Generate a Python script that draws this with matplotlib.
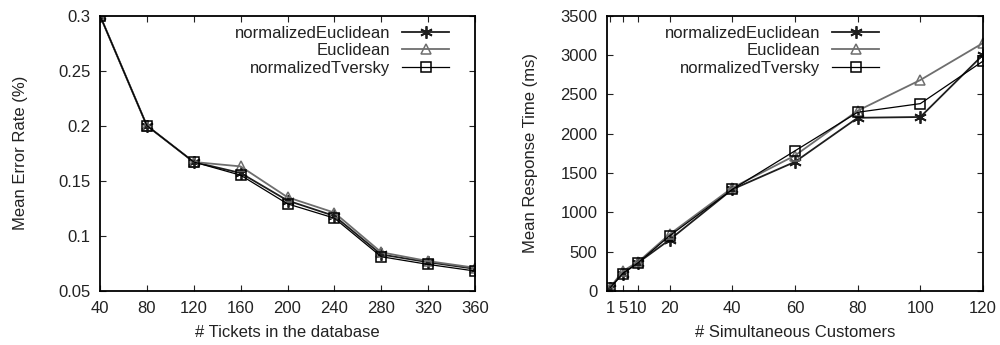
import matplotlib
matplotlib.use('Agg')
import matplotlib.pyplot as plt

plt.rcParams['font.family'] = ['Liberation Sans', 'DejaVu Sans']

# left chart: error rate vs tickets
tickets = [40, 80, 120, 160, 200, 240, 280, 320, 360]
err_norm_euclid = [0.300, 0.200, 0.167, 0.157, 0.132, 0.118, 0.083, 0.076, 0.070]
err_euclid = [0.300, 0.200, 0.167, 0.163, 0.135, 0.121, 0.085, 0.077, 0.071]
err_norm_tversky = [0.300, 0.200, 0.167, 0.155, 0.129, 0.116, 0.081, 0.074, 0.068]

# right chart: response time vs customers
customers = [1, 5, 10, 20, 40, 60, 80, 100, 120]
rt_norm_euclid = [40, 220, 360, 650, 1290, 1640, 2200, 2210, 3000]
rt_euclid = [40, 250, 370, 720, 1310, 1720, 2290, 2680, 3150]
rt_norm_tversky = [40, 220, 360, 700, 1290, 1780, 2270, 2380, 2920]

labels = ['normalizedEuclidean', 'Euclidean', 'normalizedTversky']


def draw(ax, x, series, leg_x):
    styles = [
        dict(color='#1e1e1e', marker=(6, 2, 0), markersize=9, lw=1.3, mew=1.3),
        dict(color='#6e6e6e', marker='^', markersize=7, lw=1.3, mfc='none', mew=1.1),
        dict(color='#000000', marker='s', markersize=7.5, lw=0.9, mfc='none', mew=1.1),
    ]
    for y, lab, st in zip(series, labels, styles):
        ax.plot(x, y, label=lab, mec=st['color'], **st)
    ax.tick_params(direction='in', top=True, right=True, labelsize=12,
                   length=4, pad=7, colors='#222222')
    for s in ax.spines.values():
        s.set_linewidth(1.3)
    leg = ax.legend(loc='upper right', frameon=False, markerfirst=False,
                    fontsize=12, handlelength=2.8, labelspacing=0.15,
                    borderaxespad=0.2, handletextpad=0.7,
                    bbox_to_anchor=(leg_x, 1.0))
    for t in leg.get_texts():
        t.set_ha('right')
        t.set_color('#222222')
    leg._legend_box.align = 'right'


fig = plt.figure(figsize=(10, 3.45), dpi=100)
ax1 = fig.add_axes([0.100, 0.157, 0.375, 0.798])
ax2 = fig.add_axes([0.607, 0.157, 0.376, 0.798])

draw(ax1, tickets, [err_norm_euclid, err_euclid, err_norm_tversky], 0.957)
ax1.set_xlim(40, 360)
ax1.set_ylim(0.05, 0.3)
ax1.set_xticks(tickets)
ax1.set_yticks([0.05, 0.1, 0.15, 0.2, 0.25, 0.3])
ax1.set_yticklabels(['0.05', '0.1', '0.15', '0.2', '0.25', '0.3'])
ax1.set_xlabel('# Tickets in the database', fontsize=12, color='#222222')
ax1.set_ylabel('Mean Error Rate (%)', fontsize=12, color='#222222')
ax1.xaxis.set_label_coords(0.5, -0.125)
ax1.yaxis.set_label_coords(-0.192, 0.5)

draw(ax2, customers, [rt_norm_euclid, rt_euclid, rt_norm_tversky], 0.75)
ax2.set_xlim(0, 120)
ax2.set_ylim(0, 3500)
ax2.set_xticks(customers)
ax2.set_xticklabels(['1', '5', '10', '20', '40', '60', '80', '100', '120'])
ax2.set_yticks(range(0, 3501, 500))
ax2.set_xlabel('# Simultaneous Customers', fontsize=12, color='#222222')
ax2.set_ylabel('Mean Response Time (ms)', fontsize=12, color='#222222')
ax2.xaxis.set_label_coords(0.5, -0.125)
ax2.yaxis.set_label_coords(-0.184, 0.5)

fig.savefig('out.png', dpi=100)
